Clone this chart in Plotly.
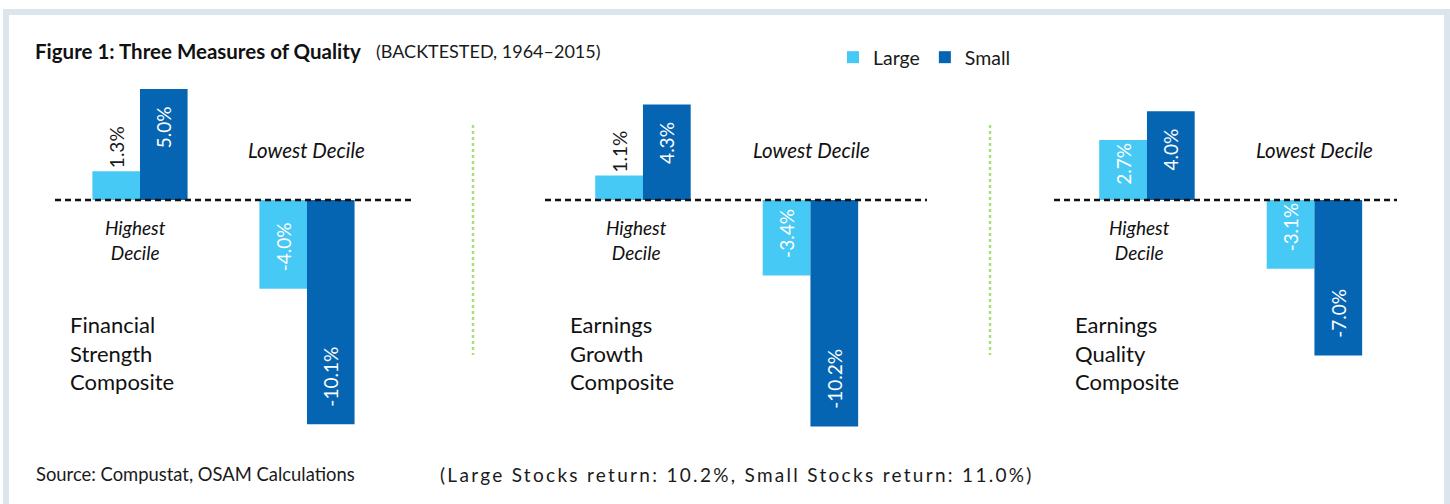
import plotly.graph_objects as go

W, H = 1450, 504
T, B = 80, 64  # plot area 80..440 px

deciles = ["Highest Decile", "Lowest Decile"]
large_fs = [1.3, -4.0]
small_fs = [5.0, -10.1]
large_eg = [1.1, -3.4]
small_eg = [4.3, -10.2]
large_eq = [2.7, -3.1]
small_eq = [4.0, -7.0]
panel_names = ["Financial<br>Strength<br>Composite", "Earnings<br>Growth<br>Composite", "Earnings<br>Quality<br>Composite"]
series_names = ["Large", "Small"]

C_LARGE = "#47C9F5"
C_SMALL = "#0665B3"
FONT = "Lato"
PAD = "\u00a0\u00a0\u00a0"

def px_x(p):
    return p / W

def px_y(p):
    return (H - B - p) / (H - T - B)

panels = [
    dict(large=large_fs, small=small_fs, dom=(55, 411), rng=(-0.509, 1.623)),
    dict(large=large_eg, small=small_eg, dom=(545, 927), rng=(-0.585, 1.696)),
    dict(large=large_eq, small=small_eq, dom=(1054, 1397), rng=(-0.555, 1.493)),
]

def label_template(v):
    if abs(v) < 2 or abs(v) < 3 and v > 0:
        return "%{y:.1f}%"
    return "%{y:.1f}%" + PAD if v > 0 else PAD + "%{y:.1f}%"

fig = go.Figure()
for i, p in enumerate(panels):
    xa = "x" if i == 0 else f"x{i+1}"
    for name, vals, col in [(series_names[0], p["large"], C_LARGE), (series_names[1], p["small"], C_SMALL)]:
        pos = ["outside" if abs(v) < 2 else "inside" for v in vals]
        fig.add_trace(go.Bar(
            x=deciles, y=vals, name=name, marker=dict(color=col, line=dict(width=0)),
            xaxis=xa, yaxis="y", showlegend=(i == 0), legendgroup=name,
            texttemplate=[label_template(v) for v in vals], textposition=pos, textangle=-90,
            insidetextanchor="end", cliponaxis=False,
            insidetextfont=dict(color="white", size=19, family=FONT),
            outsidetextfont=dict(color="#1a1a1a", size=19, family=FONT),
            hoverinfo="skip",
        ))

layout = dict(
    width=W, height=H, margin=dict(l=0, r=0, t=T, b=B),
    paper_bgcolor="white", plot_bgcolor="rgba(0,0,0,0)",
    barmode="group", bargap=0.43, bargroupgap=0,
    font=dict(family=FONT, color="#1a1a1a"),
    yaxis=dict(range=[-(440 - 200) / 22.2, (200 - 80) / 22.2], visible=False, fixedrange=True),
    legend=dict(orientation="h", x=px_x(833), y=px_y(38), xanchor="left", yanchor="top",
                font=dict(size=19.5, family=FONT), bgcolor="rgba(0,0,0,0)", traceorder="normal",
                itemwidth=30, tracegroupgap=0),
)
for i, p in enumerate(panels):
    key = "xaxis" if i == 0 else f"xaxis{i+1}"
    layout[key] = dict(domain=[px_x(p["dom"][0]), px_x(p["dom"][1])], range=list(p["rng"]),
                       visible=False, anchor="y", type="category", fixedrange=True)
fig.update_layout(**layout)

shapes = []
frame = "#DCE4EC"
shapes.append(dict(type="rect", xref="paper", yref="paper", x0=px_x(3), x1=px_x(1450), y0=px_y(9), y1=px_y(15), fillcolor=frame, line=dict(width=0), layer="below"))
shapes.append(dict(type="rect", xref="paper", yref="paper", x0=px_x(3), x1=px_x(9), y0=px_y(9), y1=px_y(504), fillcolor=frame, line=dict(width=0), layer="below"))
shapes.append(dict(type="rect", xref="paper", yref="paper", x0=px_x(1444), x1=px_x(1450), y0=px_y(9), y1=px_y(504), fillcolor=frame, line=dict(width=0), layer="below"))
for i in range(3):
    xr = "x domain" if i == 0 else f"x{i+1} domain"
    shapes.append(dict(type="line", xref=xr, yref="y", x0=0, x1=1, y0=0, y1=0,
                       line=dict(color="#111111", width=2.5, dash="6px,4px"), layer="above"))
for xs in [473, 990]:
    shapes.append(dict(type="line", xref="paper", yref="paper", x0=px_x(xs), x1=px_x(xs), y0=px_y(125), y1=px_y(355),
                       line=dict(color="#A8E07C", width=2.5, dash="dot")))
fig.update_layout(shapes=shapes)

ann = []
ann.append(dict(text="<b>Figure 1: Three Measures of Quality</b>", x=px_x(33), y=px_y(51), xanchor="left", yanchor="middle",
                font=dict(size=20.5, family=FONT, color="#111111")))
ann.append(dict(text="(BACKTESTED, 1964\u20132015)", x=px_x(374), y=px_y(51), xanchor="left", yanchor="middle",
                font=dict(size=18, family=FONT, color="#1a1a1a")))
label_x = [68, 568, 1073]
high_x = [135, 636, 1139]
low_x = [306, 811, 1314]
for i in range(3):
    ann.append(dict(text=panel_names[i], x=px_x(label_x[i]), y=px_y(353), xanchor="left", yanchor="middle", align="left",
                    font=dict(size=22, family=FONT, color="#111111")))
    ann.append(dict(text="<i>Highest<br>Decile</i>", x=px_x(high_x[i]), y=px_y(240), xanchor="center", yanchor="middle", align="center",
                    font=dict(size=19, family=FONT, color="#111111")))
    ann.append(dict(text="<i>Lowest Decile</i>", x=px_x(low_x[i]), y=px_y(150), xanchor="center", yanchor="middle",
                    font=dict(size=20.5, family=FONT, color="#111111")))
ann.append(dict(text="Source: Compustat, OSAM Calculations", x=px_x(34), y=px_y(474), xanchor="left", yanchor="middle",
                font=dict(size=18.4, family=FONT, color="#1a1a1a")))
ann.append(dict(text="(Large Stocks return: 10.2%, Small Stocks return: 11.0%)", x=px_x(438), y=px_y(474), xanchor="left", yanchor="middle",
                align="left", font=dict(size=19, family=FONT, color="#1a1a1a")))
for a in ann:
    a.update(xref="paper", yref="paper", showarrow=False)
fig.update_layout(annotations=ann)

post = """
document.body.style.margin='0';document.body.style.padding='0';
var gd = document.getElementById('{plot_id}');
function spaceFooter(){
  document.querySelectorAll('text.annotation-text').forEach(function(t){
    if ((t.textContent||'').indexOf('(Large Stocks') === 0){ t.style.letterSpacing = '2.3px'; }
  });
}
spaceFooter();
if (gd && gd.on) { gd.on('plotly_afterplot', spaceFooter); }
"""
fig.write_html("out.html", post_script=post, config=dict(displayModeBar=False, staticPlot=True))
